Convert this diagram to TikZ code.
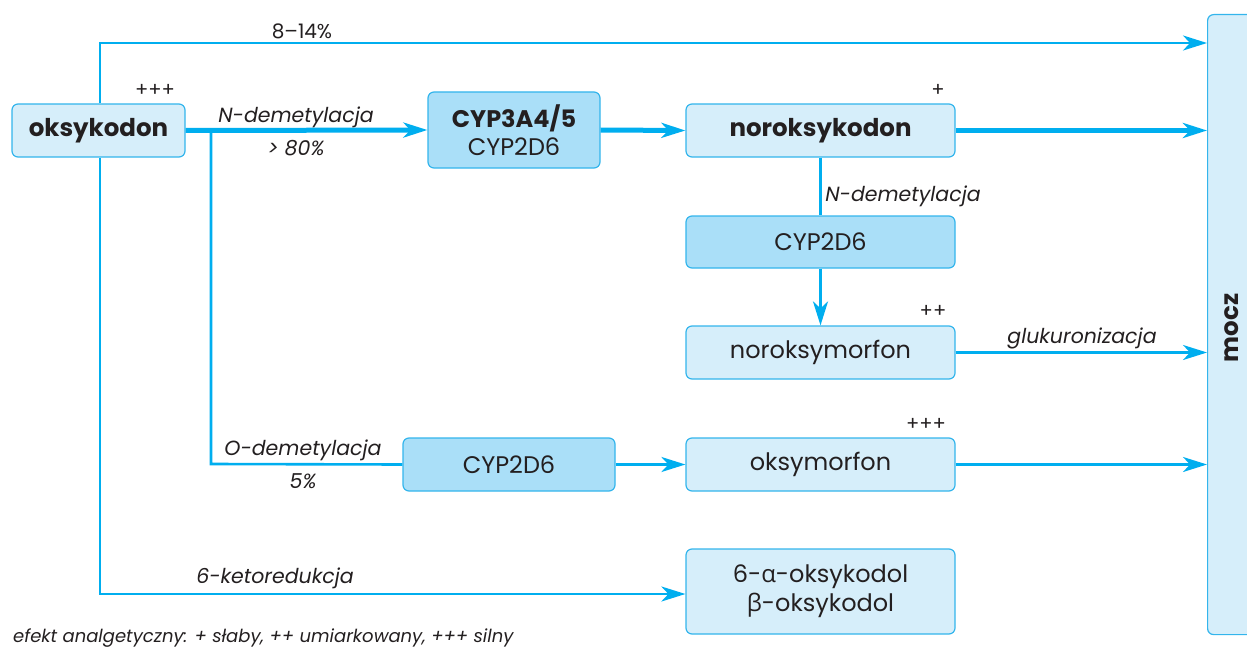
\documentclass[tikz,border=0pt]{standalone}
\usepackage{fontspec}
\setmainfont{Poppins}
\newfontfamily\grk{Open Sans}
\usetikzlibrary{arrows.meta}
\definecolor{lineblue}{HTML}{00AEEF}
\definecolor{boxedge}{HTML}{33B5EC}
\definecolor{lightfill}{HTML}{D6EEFA}
\definecolor{darkfill}{HTML}{AADFF8}
\definecolor{txt}{HTML}{231F20}
\tikzset{
  box/.style={draw=boxedge, line width=1.2pt, fill=lightfill, rounded corners=6pt, text=txt, font=\fontsize{24}{28}\selectfont, align=center, inner sep=0pt},
  enzbox/.style={box, fill=darkfill},
  conn/.style={draw=lineblue, line width=2.6pt},
  thick conn/.style={draw=lineblue, line width=5pt},
  arr/.style={-{Stealth[length=24pt,width=15pt,inset=7pt]}},
  lab/.style={text=txt, font=\itshape\fontsize{20.5}{24}\selectfont, inner sep=0pt},
  plus/.style={text=txt, font=\fontsize{19.5}{22}\selectfont, inner sep=0pt}
}
\begin{document}
\begin{tikzpicture}[x=1pt,y=-1pt]
\useasboundingbox (0,0) rectangle (1247,650);
% boxes
\node[box, minimum width=173pt, minimum height=53pt, font=\bfseries\fontsize{24.5}{28}\selectfont] (oks) at (98.5,130.5) {oksykodon};
\node[enzbox, minimum width=172pt, minimum height=76pt] (cyp34) at (514,130) {{\bfseries CYP3A4/5}\\CYP2D6};
\node[box, minimum width=269pt, minimum height=53pt, font=\bfseries\fontsize{24.5}{28}\selectfont] (nor) at (820.5,130.5) {noroksykodon};
\node[enzbox, minimum width=269pt, minimum height=52pt] (cypa) at (820.5,242) {CYP2D6};
\node[box, minimum width=269pt, minimum height=53pt] (nom) at (820.5,352.5) {noroksymorfon};
\node[enzbox, minimum width=212pt, minimum height=53pt] (cypb) at (509,464.5) {CYP2D6};
\node[box, minimum width=269pt, minimum height=53pt] (oxm) at (820.5,464.5) {oksymorfon};
\node[box, minimum width=269pt, minimum height=85pt] (kol) at (820.5,591.5) {6-{\grk α}-oksykodol\\[1pt]{\grk β}-oksykodol};
\node[box, minimum width=60pt, minimum height=620pt, anchor=north west] (mocz) at (1207,14) {};
\node[rotate=90, text=txt, font=\bfseries\fontsize{24.5}{28}\selectfont, inner sep=0pt] (mtxt) at (1232,328) {mocz};
% coordinates
\coordinate (tl) at (100,43);
\coordinate (ml) at (1207,43);
\coordinate (br) at (211,130);
\coordinate (bl) at (211,464);
\coordinate (kl) at (100,594);
% connectors
\draw[conn, arr] (oks.north -| tl) -- (tl) -- (ml);
\draw[thick conn, arr] (oks.east) -- (cyp34.west);
\draw[thick conn, arr] (cyp34.east) -- (nor.west);
\draw[thick conn, arr] (nor.east) -- (nor.east -| mocz.west);
\draw[conn] (nor.south) -- (cypa.north);
\draw[conn, arr] (cypa.south) -- (nom.north);
\draw[conn, arr] (nom.east) -- (nom.east -| mocz.west);
\draw[conn] (br) -- (bl) -- (cypb.west);
\draw[conn, arr] (cypb.east) -- (oxm.west);
\draw[conn, arr] (oxm.east) -- (oxm.east -| mocz.west);
\draw[conn, arr] (oks.south -| kl) -- (kl) -- (kl -| kol.west);
% labels
\node[lab, font=\fontsize{20}{24}\selectfont] (l1) at (302,31) {8–14\%};
\node[plus] (p1) at (155,90) {+++};
\node[lab] (l2) at (296,117) {N-demetylacja};
\node[lab] (l3) at (296,148) {> 80\%};
\node[plus] (p2) at (938,90) {+};
\node[lab] (l4) at (903,196) {N-demetylacja};
\node[plus] (p3) at (933,311) {++};
\node[lab] (l5) at (1082,338) {glukuronizacja};
\node[lab] (l6) at (303,450) {O-demetylacja};
\node[lab] (l7) at (303,481) {5\%};
\node[plus] (p4) at (926,424) {+++};
\node[lab] (l8) at (275,578) {6-ketoredukcja};
\node[lab, anchor=west, font=\itshape\fontsize{18}{20}\selectfont] (cap) at (13,638) {efekt analgetyczny: + słaby, ++ umiarkowany, +++ silny};
\end{tikzpicture}
\end{document}
